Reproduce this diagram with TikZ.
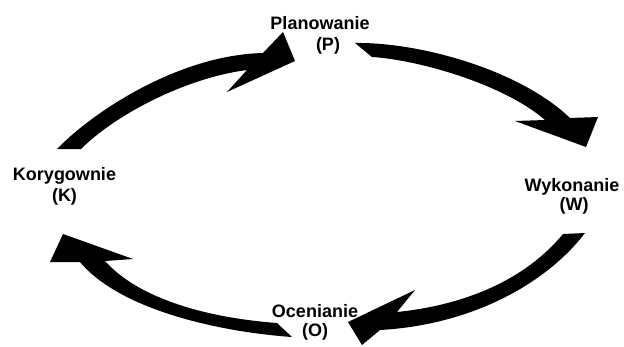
\documentclass[tikz,border=0pt]{standalone}
\usepackage{fontspec}
\setmainfont{Liberation Sans}
\begin{document}
\begin{tikzpicture}[x=1pt,y=-1pt,
  lbl/.style={font=\fontsize{18}{20}\selectfont\bfseries, inner sep=0pt, anchor=base},
  blk/.style={fill=black, draw=none}]
\useasboundingbox (0,0) rectangle (624,346);
% labels
\node[lbl] (P1) at (320,29) {Planowanie};
\node[lbl] (P2) at (328,50) {(P)};
\node[lbl] (W1) at (572,191) {Wykonanie};
\node[lbl] (W2) at (574,210) {(W)};
\node[lbl] (O1) at (315,317) {Ocenianie};
\node[lbl] (O2) at (315,336) {(O)};
\node[lbl] (K1) at (64.5,180) {Korygownie};
\node[lbl] (K2) at (64.5,201) {(K)};
% K -> P
\fill[blk] (57,149) .. controls (95,110) and (180,55) .. (263,53) -- (283,32) -- (295,61) -- (227,92) -- (247,70)
  .. controls (185,78) and (115,115) .. (81,149) -- cycle;
% P -> W
\fill[blk] (355,43) .. controls (420,42) and (520,70) .. (570,118) -- (598,117) -- (586,147) -- (515,121) -- (545,120)
  .. controls (505,85) and (420,60) .. (372,57) -- cycle;
% W -> O
\fill[blk] (585,233) .. controls (545,285) and (470,325) .. (380,330) -- (362,345) -- (348,322) -- (415,290) -- (397,312)
  .. controls (465,305) and (525,280) .. (563,234) -- cycle;
% O -> K
\fill[blk] (292,337) .. controls (220,332) and (120,310) .. (80,262) -- (50,262) -- (63,234) -- (133,259) -- (105,261)
  .. controls (140,300) and (210,318) .. (277,323) -- cycle;
\end{tikzpicture}
\end{document}
